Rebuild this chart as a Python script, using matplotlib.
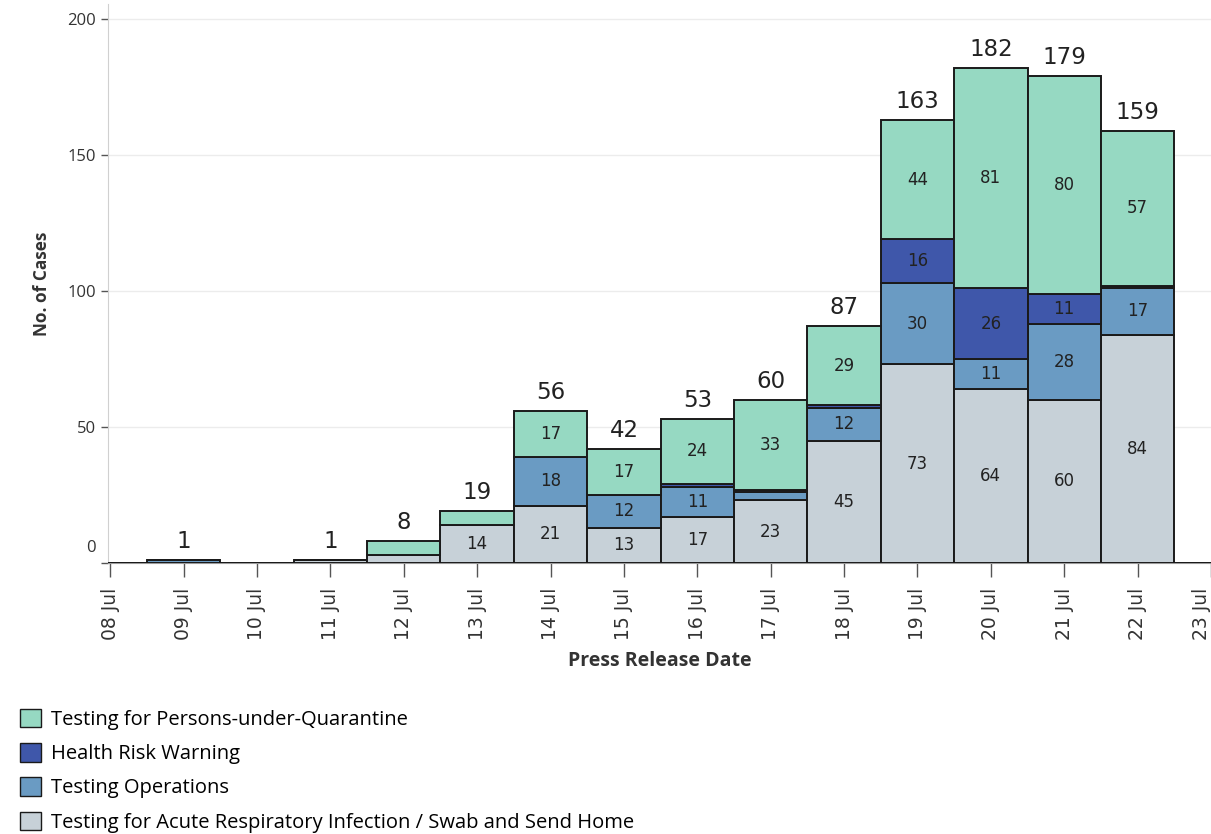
import numpy as np
import matplotlib
matplotlib.use("Agg")
import matplotlib.pyplot as plt
from matplotlib.patches import Patch

plt.rcParams['font.family'] = ['Open Sans', 'DejaVu Sans']

# data: press release dates and case counts per category
dates = ['08 Jul', '09 Jul', '10 Jul', '11 Jul', '12 Jul', '13 Jul', '14 Jul', '15 Jul',
         '16 Jul', '17 Jul', '18 Jul', '19 Jul', '20 Jul', '21 Jul', '22 Jul', '23 Jul']
swab_home = [0, 0, 0, 1, 3, 14, 21, 13, 17, 23, 45, 73, 64, 60, 84, 0]
test_ops = [0, 1, 0, 0, 0, 0, 18, 12, 11, 3, 12, 30, 11, 28, 17, 0]
health_risk = [0, 0, 0, 0, 0, 0, 0, 0, 1, 1, 1, 16, 26, 11, 1, 0]
quarantine = [0, 0, 0, 0, 5, 5, 17, 17, 24, 33, 29, 44, 81, 80, 57, 0]

series = [
    ('Testing for Acute Respiratory Infection / Swab and Send Home', swab_home, '#c7d1d8'),
    ('Testing Operations', test_ops, '#6a9bc3'),
    ('Health Risk Warning', health_risk, '#3f57aa'),
    ('Testing for Persons-under-Quarantine', quarantine, '#96d9c2'),
]

x = np.arange(len(dates))
totals = np.sum([s[1] for s in series], axis=0)
num_font = ['DejaVu Sans']

fig = plt.figure(figsize=(12.11, 8.34), dpi=100)
ax = fig.add_axes([0.0892, 0.325, 0.9108, 0.670])

bottom = np.zeros(len(dates))
for name, vals, col in series:
    vals = np.array(vals)
    ax.bar(x, vals, width=1.0, bottom=bottom, color=col,
           edgecolor='#1a1a1a', linewidth=1.4, zorder=3)
    for xi, v, b in zip(x, vals, bottom):
        if v >= 10:
            ax.text(xi, b + v / 2, str(v), ha='center', va='center',
                    fontsize=12, color='#222222', zorder=4, family=num_font)
    bottom += vals

# totals above each bar
for xi, t in zip(x, totals):
    if t > 0:
        ax.annotate(str(t), (xi, t), xytext=(0, 5), textcoords='offset points',
                    ha='center', va='bottom', fontsize=16.5, color='#222222', family=num_font)

ax.set_xlim(-0.03, 15.0)
ax.set_ylim(0, 205.5)
ax.set_xticks(x)
ax.set_xticklabels(dates, rotation=90, fontsize=13.5, color='#333333', family=num_font)
ax.get_xticklabels()[-1].set_ha('right')
ax.set_yticks([0, 50, 100, 150, 200])
ax.set_yticklabels(['', '50', '100', '150', '200'], fontsize=12, color='#333333')
# the zero label sits a little above the baseline, as in the original
ax.annotate('0', xy=(0, 0), xycoords=('axes fraction', 'data'), xytext=(-9, 11),
            textcoords='offset points', ha='right', va='center', fontsize=12, color='#333333')
ax.tick_params(axis='x', length=10, width=1, color='#555555', pad=8)
ax.tick_params(axis='y', length=5, width=1, color='#555555')

ax.grid(axis='y', color='#ececec', linewidth=1, zorder=0)
for s in ['top', 'right']:
    ax.spines[s].set_visible(False)
ax.spines['left'].set_color('#d0d0d0')
ax.spines['bottom'].set_color('#9a9a9a')

ax.set_ylabel('No. of Cases', fontsize=12.4, fontweight='bold', color='#333333', labelpad=12)
ax.set_xlabel('Press Release Date', fontsize=14, fontweight='bold', color='#333333', labelpad=8)

handles = [Patch(facecolor=col, edgecolor='#1a1a1a', label=name) for name, _, col in reversed(series)]
fig.legend(handles=handles, loc='upper left', bbox_to_anchor=(0.010, 0.160), frameon=False,
           fontsize=14.5, handlelength=1.05, handleheight=1.05, handletextpad=0.5,
           labelspacing=0.65, borderaxespad=0)

fig.savefig('out.png', dpi=100)
